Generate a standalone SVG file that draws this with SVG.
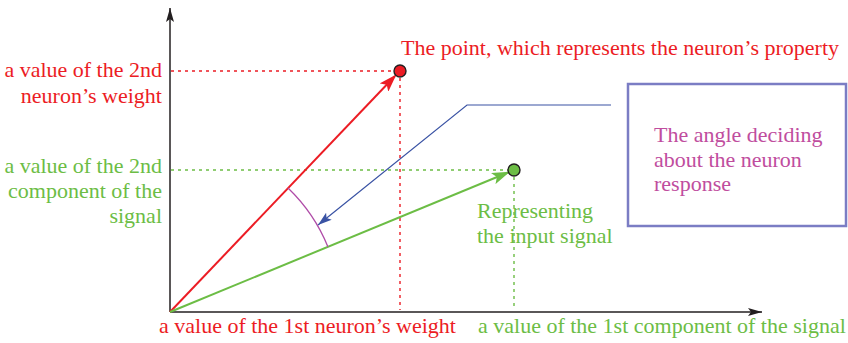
<svg xmlns="http://www.w3.org/2000/svg" width="848" height="343" viewBox="0 0 848 343">
<defs>
<style>
text{font-family:"Liberation Serif","DejaVu Serif",serif;font-size:22px}
.red{fill:#ec1c24}
.grn{fill:#6cbd45}
.pur{fill:#c04d9e}
.dotr{stroke:#ec1c24;stroke-width:1.4;stroke-dasharray:3 4;fill:none}
.dotg{stroke:#6cbd45;stroke-width:1.4;stroke-dasharray:3 4;fill:none}
</style>
<marker id="ah" viewBox="0 0 14 8" refX="14" refY="4" markerWidth="14" markerHeight="8" markerUnits="userSpaceOnUse" orient="auto"><path d="M0,0 L14,4 L0,8 L3,4 Z" fill="#231f20"/></marker>
<marker id="ahr" viewBox="0 0 18 12" refX="16" refY="6" markerWidth="18" markerHeight="12" markerUnits="userSpaceOnUse" orient="auto"><path d="M0,0 L18,6 L0,12 L4,6 Z" fill="#ec1c24"/></marker>
<marker id="ahg" viewBox="0 0 18 12" refX="16" refY="6" markerWidth="18" markerHeight="12" markerUnits="userSpaceOnUse" orient="auto"><path d="M0,0 L18,6 L0,12 L4,6 Z" fill="#6cbd45"/></marker>
<marker id="ahb" viewBox="0 0 14 9" refX="14" refY="4.5" markerWidth="14" markerHeight="9" markerUnits="userSpaceOnUse" orient="auto"><path d="M0,0 L14,4.5 L0,9 L3,4.5 Z" fill="#3a53a4"/></marker>
</defs>
<g id="connectors">
<line x1="171" y1="71" x2="394" y2="71" class="dotr"/>
<line x1="400" y1="78" x2="400" y2="310" class="dotr"/>
<line x1="171" y1="170" x2="508" y2="170" class="dotg"/>
<line x1="514" y1="177" x2="514" y2="310" class="dotg"/>
<line x1="170" y1="312" x2="170" y2="8" stroke="#231f20" stroke-width="1.5" marker-end="url(#ah)"/>
<line x1="170" y1="312" x2="762" y2="312" stroke="#231f20" stroke-width="1.5" marker-end="url(#ah)"/>
<line x1="170" y1="312" x2="395" y2="76" stroke="#ec1c24" stroke-width="2" marker-end="url(#ahr)"/>
<line x1="170" y1="312" x2="508" y2="172.5" stroke="#6cbd45" stroke-width="2" marker-end="url(#ahg)"/>
<path d="M288,188 A171,171 0 0 1 328,247" fill="none" stroke="#b04ca8" stroke-width="1.3"/>
<polyline points="611,105 467,105 318,225" fill="none" stroke="#3a53a4" stroke-width="1.2" marker-end="url(#ahb)"/>
</g>
<g id="point-red"><circle cx="400" cy="71" r="6" fill="#ec1c24" stroke="#231f20" stroke-width="1.4"/></g>
<g id="point-green"><circle cx="514" cy="170" r="6" fill="#6cbd45" stroke="#231f20" stroke-width="1.4"/></g>
<g id="box">
<rect x="628" y="84" width="218" height="142" fill="#fff" stroke="#7b7dc4" stroke-width="2.5"/>
<text class="pur" x="654" y="142">The angle deciding</text>
<text class="pur" x="654" y="167">about the neuron</text>
<text class="pur" x="654" y="191">response</text>
</g>
<g id="labels">
<text class="red" x="401" y="55">The point, which represents the neuron’s property</text>
<text class="red" x="162" y="77" text-anchor="end">a value of the 2nd</text>
<text class="red" x="162" y="103" text-anchor="end">neuron’s weight</text>
<text class="grn" x="162" y="173" text-anchor="end">a value of the 2nd</text>
<text class="grn" x="162" y="198" text-anchor="end">component of the</text>
<text class="grn" x="162" y="223" text-anchor="end">signal</text>
<text class="grn" x="477" y="218">Representing</text>
<text class="grn" x="477" y="243">the input signal</text>
<text class="red" x="159" y="333">a value of the 1st neuron’s weight</text>
<text class="grn" x="478" y="333">a value of the 1st component of the signal</text>
</g>
</svg>
